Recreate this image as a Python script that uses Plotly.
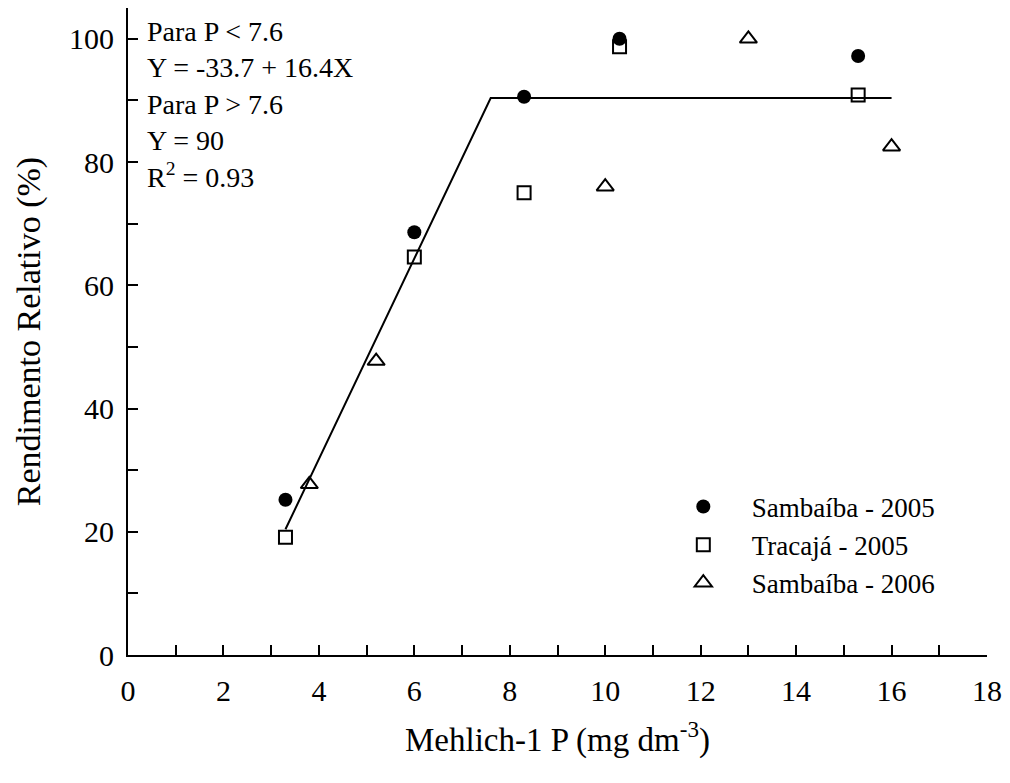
import plotly.graph_objects as go

# Data
samb05_x = [3.3, 6.0, 8.3, 10.3, 15.3]
samb05_y = [25.2, 68.6, 90.6, 100.0, 97.2]
trac05_x = [3.3, 6.0, 8.3, 10.3, 15.3]
trac05_y = [19.1, 64.6, 75.0, 98.7, 90.9]
samb06_x = [3.8, 5.2, 10.0, 13.0, 16.0]
samb06_y = [27.7, 47.7, 76.0, 100.0, 82.5]
fit_x = [3.3, 7.6, 16.0]
fit_y = [20.4, 90.4, 90.4]

FONT = "Liberation Serif"
NB = "\u00a0\u00a0"

fig = go.Figure()
fig.add_trace(go.Scatter(x=fit_x, y=fit_y, mode="lines", line=dict(color="black", width=2),
                         showlegend=False, hoverinfo="skip"))
fig.add_trace(go.Scatter(x=samb05_x, y=samb05_y, mode="markers", name=NB + "Sambaíba - 2005",
                         marker=dict(symbol="circle", size=14, color="black")))
fig.add_trace(go.Scatter(x=trac05_x, y=trac05_y, mode="markers", name=NB + "Tracajá - 2005",
                         marker=dict(symbol="square-open", size=13, color="black", line=dict(width=2))))
fig.add_trace(go.Scatter(x=samb06_x, y=samb06_y, mode="markers", name=NB + "Sambaíba - 2006",
                         marker=dict(symbol="triangle-up-open", size=15, color="black", line=dict(width=2))))

fig.add_annotation(
    x=0, y=1, xref="paper", yref="paper", xanchor="left", yanchor="top",
    xshift=17, yshift=-6, align="left", showarrow=False,
    text="Para P &lt; 7.6<br>Y = -33.7 + 16.4X<br>Para P &gt; 7.6<br>Y = 90<br>R<sup>2</sup> = 0.93",
    font=dict(family=FONT, size=28, color="black"),
)

fig.update_layout(
    width=1010, height=783,
    margin=dict(l=128, r=20, t=8, b=128),
    paper_bgcolor="white", plot_bgcolor="white",
    font=dict(family=FONT, color="black"),
    legend=dict(x=0.629, y=0.170, xanchor="left", yanchor="middle",
                font=dict(family=FONT, size=27, color="black"),
                bgcolor="rgba(0,0,0,0)", itemwidth=60, tracegroupgap=0),
    xaxis=dict(range=[0, 18], tickmode="linear", tick0=0, dtick=2,
               ticks="inside", ticklen=10, tickwidth=2, tickcolor="black",
               minor=dict(dtick=1, ticks="inside", ticklen=10, tickwidth=2, tickcolor="black"),
               showline=True, linecolor="black", linewidth=2, mirror=False,
               showgrid=False, zeroline=False, ticklabelstandoff=8,
               tickfont=dict(family=FONT, size=30, color="black"),
               title=dict(text="Mehlich-1 P (mg dm<sup>-3</sup>)",
                          font=dict(family=FONT, size=33, color="black"), standoff=22)),
    yaxis=dict(range=[0, 105], tickmode="linear", tick0=0, dtick=20,
               ticks="inside", ticklen=10, tickwidth=2, tickcolor="black",
               minor=dict(dtick=10, ticks="inside", ticklen=10, tickwidth=2, tickcolor="black"),
               showline=True, linecolor="black", linewidth=2, mirror=False,
               showgrid=False, zeroline=False, ticklabelstandoff=6,
               tickfont=dict(family=FONT, size=30, color="black"),
               title=dict(text="Rendimento Relativo (%)",
                          font=dict(family=FONT, size=34, color="black"), standoff=18)),
)

fig.write_html("out.html", config={"displayModeBar": False},
               post_script="document.body.style.margin='0';document.body.style.overflow='hidden';")
